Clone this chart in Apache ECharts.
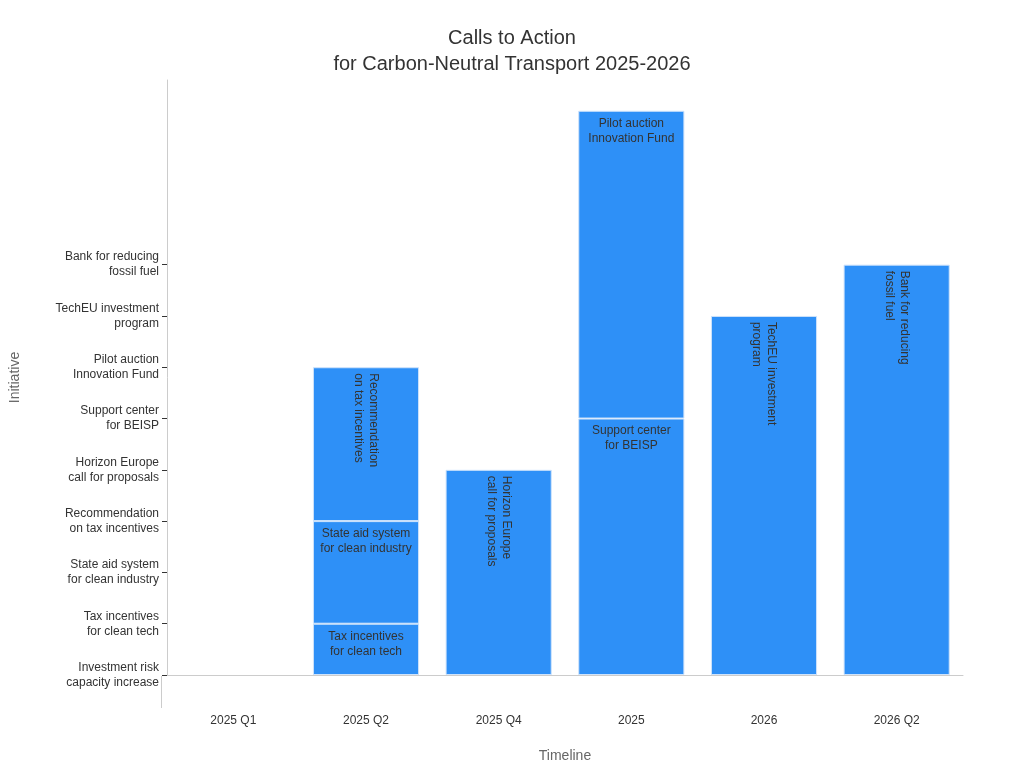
<!DOCTYPE html><html><head><meta charset="utf-8">
<script src="https://cdn.jsdelivr.net/npm/echarts@6/dist/echarts.min.js"></script>
<style>html,body{margin:0}#c{width:1024px;height:768px}</style></head><body><div id="c"></div><script>
const categories=['2025 Q1','2025 Q2','2025 Q4','2025','2026','2026 Q2'];
const initiatives=['Investment risk\ncapacity increase','Tax incentives\nfor clean tech','State aid system\nfor clean industry','Recommendation\non tax incentives','Horizon Europe\ncall for proposals','Support center\nfor BEISP','Pilot auction\nInnovation Fund','TechEU investment\nprogram','Bank for reducing\nfossil fuel'];
const layer1=[null,1,4,5,7,8];
const layer1Names=[null,'Tax incentives\nfor clean tech','Horizon Europe\ncall for proposals','Support center\nfor BEISP','TechEU investment\nprogram','Bank for reducing\nfossil fuel'];
const layer1Rot=[false,false,true,false,true,true];
const layer2=[null,2,null,6,null,null];
const layer2Names=[null,'State aid system\nfor clean industry',null,'Pilot auction\nInnovation Fund',null,null];
const layer3=[null,3,null,null,null,null];
const layer3Names=[null,'Recommendation\non tax incentives',null,null,null,null];
const layer3Rot=[false,true,false,false,false,false];
function mk(vals,names,rots){return vals.map((v,i)=>v==null?null:{value:v,label:rots&&rots[i]?{rotate:-90,position:'insideTop',align:'left',verticalAlign:'middle',distance:6,formatter:names[i]}:{formatter:names[i]}});}
const color='#2e90f7';
const base={type:'bar',stack:'s',barWidth:'80%',itemStyle:{color:color,borderColor:'#cfe3fb',borderWidth:1},
 label:{show:true,position:'insideTop',color:'#333',fontSize:12,lineHeight:15,distance:5}};
const ch=echarts.init(document.getElementById('c'));
ch.setOption({
 title:{text:'Calls to Action\nfor Carbon-Neutral Transport 2025-2026',left:'center',top:20,textStyle:{fontSize:20,fontWeight:'normal',color:'#333',lineHeight:26}},
 grid:{left:161,right:61,top:80,bottom:92},
 xAxis:{type:'category',data:categories,offset:32,name:'Timeline',nameLocation:'middle',nameGap:42,nameTextStyle:{fontSize:14,color:'#666'},
  axisLine:{lineStyle:{color:'#ccc'}},axisTick:{alignWithLabel:true,lineStyle:{color:'#333'}},axisLabel:{color:'#333',fontSize:12}},
 yAxis:{type:'value',min:0,max:11.6,interval:1,name:'Initiative',nameLocation:'middle',nameGap:145,nameTextStyle:{fontSize:14,color:'#666'},
  splitLine:{show:false},axisLine:{show:true,lineStyle:{color:'#ccc'}},
  axisTick:{show:true,customValues:[0,1,2,3,4,5,6,7,8],lineStyle:{color:'#333'}},
  axisLabel:{customValues:[0,1,2,3,4,5,6,7,8],formatter:v=>initiatives[v]||'',color:'#333',fontSize:12,lineHeight:15}},
 graphic:[{type:'line',shape:{x1:161.5,y1:676,x2:161.5,y2:708},style:{stroke:'#ccc',lineWidth:1}}],
 series:[
  Object.assign({},base,{name:'l1',data:mk(layer1,layer1Names,layer1Rot)}),
  Object.assign({},base,{name:'l2',data:mk(layer2,layer2Names,null)}),
  Object.assign({},base,{name:'l3',data:mk(layer3,layer3Names,layer3Rot)})
 ]
});
</script></body></html>
